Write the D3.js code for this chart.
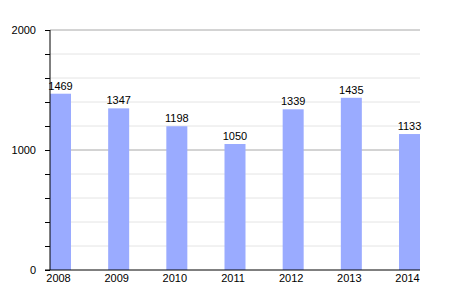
<!DOCTYPE html>
<html>
<head>
<meta charset="utf-8">
<script src="https://cdn.jsdelivr.net/npm/d3@7"></script>
<style>
  body { margin: 0; background: #fff; }
  text { font-family: "Liberation Sans", Arial, sans-serif; }
</style>
</head>
<body>
<div id="main"></div>
<script>
const ctx = {
    w: 450,
    h: 300,
};

const years = ["2008", "2009", "2010", "2011", "2012", "2013", "2014"];
const values = [1469, 1347, 1198, 1050, 1339, 1435, 1133];
const majorTicks = [0, 1000, 2000];
const minorTicks = [200, 400, 600, 800, 1200, 1400, 1600, 1800];

function createViz() {
    const margin = {top: 30, right: 30, bottom: 30, left: 50};
    const width = ctx.w - margin.left - margin.right;
    const height = ctx.h - margin.top - margin.bottom;
    const barW = 21;

    const svgEl = d3.select("#main").append("svg")
        .attr("width", ctx.w)
        .attr("height", ctx.h);

    const x = d3.scalePoint()
        .domain(years)
        .range([barW / 2, width - barW / 2]);

    const y = d3.scaleLinear()
        .domain([0, 2000])
        .range([height, 0]);

    const g = svgEl.append("g").attr("transform", `translate(${margin.left},${margin.top})`);

    // minor grid
    g.selectAll(".minor")
        .data(minorTicks)
        .enter().append("line")
        .attr("x1", 0).attr("x2", width)
        .attr("y1", d => y(d)).attr("y2", d => y(d))
        .style("stroke", "#e4e4e4");

    // major grid
    g.selectAll(".major")
        .data(majorTicks.filter(d => d > 0))
        .enter().append("line")
        .attr("x1", 0).attr("x2", width)
        .attr("y1", d => y(d)).attr("y2", d => y(d))
        .style("stroke", "#a8a8a8");

    // bars
    g.selectAll(".bar")
        .data(values)
        .enter().append("rect")
        .attr("class", "bar")
        .attr("x", (d, i) => x(years[i]) - barW / 2)
        .attr("width", barW)
        .attr("y", d => y(d))
        .attr("height", d => height - y(d))
        .style("fill", "#9aabff");

    // value labels
    g.selectAll(".val")
        .data(values)
        .enter().append("text")
        .attr("x", (d, i) => x(years[i]))
        .attr("y", d => y(d) - 4)
        .attr("text-anchor", "middle")
        .style("font-size", "11px")
        .style("fill", "#000")
        .text(d => d);

    // left axis
    const yAxis = g.append("g")
        .call(d3.axisLeft(y).tickValues(majorTicks.concat(minorTicks))
            .tickSize(5)
            .tickFormat(d => majorTicks.includes(d) ? d : ""));
    yAxis.select(".domain").attr("d", `M0,${height}V0`).style("stroke", "#000");
    yAxis.selectAll(".tick line").style("stroke", "#000");
    yAxis.selectAll(".tick text")
        .attr("x", -14)
        .style("font-size", "11px")
        .style("font-family", "'Liberation Sans', Arial, sans-serif")
        .style("fill", "#000");

    // bottom axis
    const xAxis = g.append("g")
        .attr("transform", `translate(0,${height})`)
        .call(d3.axisBottom(x).tickSize(0).tickPadding(4));
    xAxis.select(".domain").attr("d", `M-5,0H${width}`).style("stroke", "#000");
    xAxis.selectAll(".tick text")
        .attr("dx", -2.5)
        .style("font-size", "11px")
        .style("font-family", "'Liberation Sans', Arial, sans-serif")
        .style("fill", "#000");
}

createViz();
</script>
</body>
</html>
